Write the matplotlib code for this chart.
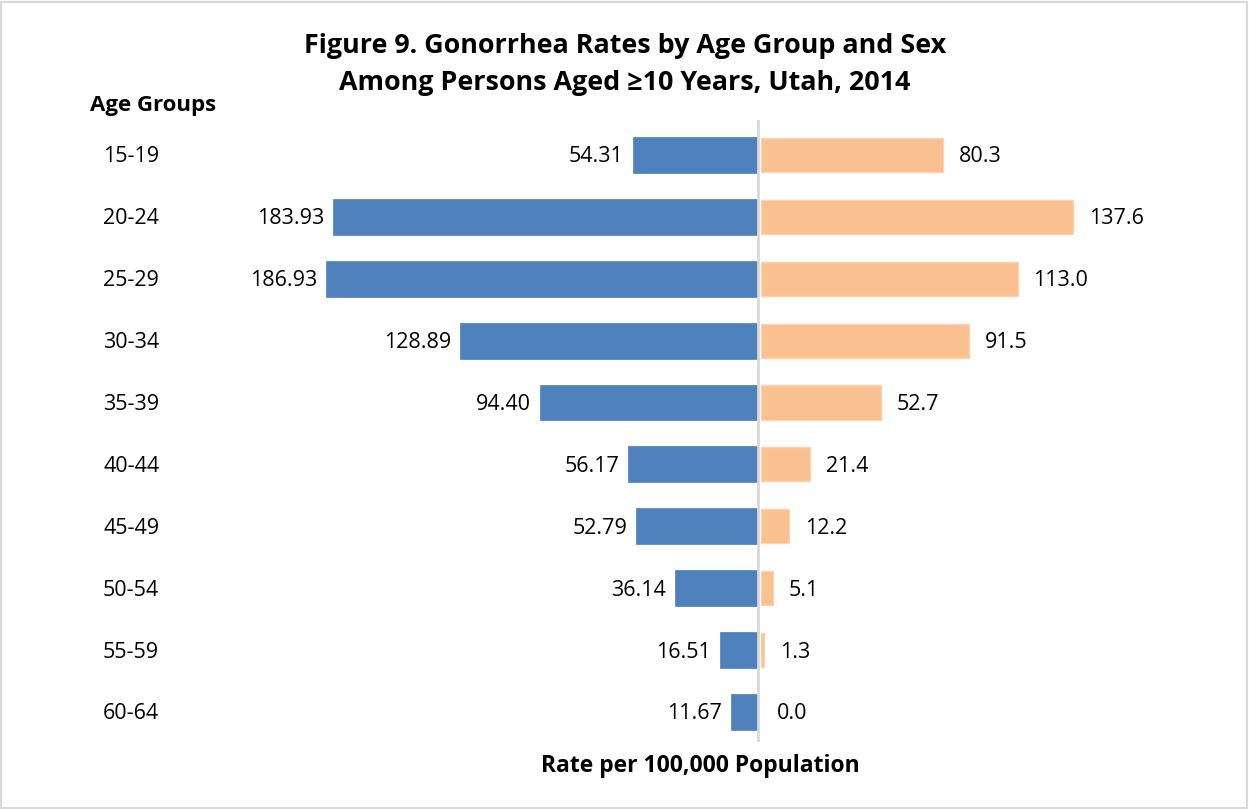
import matplotlib.pyplot as plt
from matplotlib.patches import Rectangle
from matplotlib.transforms import blended_transform_factory

# === DATA ===
age_groups = ["15-19", "20-24", "25-29", "30-34", "35-39",
              "40-44", "45-49", "50-54", "55-59", "60-64"]
male_rates = [54.31, 183.93, 186.93, 128.89, 94.40,
              56.17, 52.79, 36.14, 16.51, 11.67]
female_rates = [80.3, 137.6, 113.0, 91.5, 52.7,
                21.4, 12.2, 5.1, 1.3, 0.0]
# ============

plt.rcParams['font.family'] = ['Open Sans', 'DejaVu Sans']

W, H = 1249, 809
fig = plt.figure(figsize=(W / 100, H / 100), dpi=100)

# axes placed in pixel terms: x 240..1200, y 120..742
rect = [240 / W, 1 - 742 / H, 960 / W, 622 / H]
ylim = (len(age_groups) - 1 + 0.485, -0.565)
y = list(range(len(age_groups)))
bar_h = 0.58

# male side (left)
ax = fig.add_axes(rect)
ax.set_xlim(-(758 - 240) / 2.31, (1200 - 758) / 2.31)
ax.set_ylim(*ylim)
ax.barh(y, [-v for v in male_rates], height=bar_h,
        color='#4F81BD', edgecolor='#4F81BD', linewidth=0.5)

# female side (right), slightly different scale as in the original
ax2 = fig.add_axes(rect)
ax2.patch.set_visible(False)
ax2.set_xlim(-(761 - 240) / 2.27, (1200 - 761) / 2.27)
ax2.set_ylim(*ylim)
for yi, f in zip(y, female_rates):
    if f > 0:
        ax2.barh(yi, f, height=bar_h * 0.95,
                 color='#FAC090', edgecolor='#FBD3B0', linewidth=1)

ax.axvline(0, color='#D9D9D9', linewidth=2)

for yi, m, f in zip(y, male_rates, female_rates):
    ax.annotate(f"{m:.2f}", (-m, yi), xytext=(-9, -2), textcoords='offset pixels',
                ha='right', va='center', fontsize=15.5)
    ax2.annotate(f"{f:.1f}", (f, yi), xytext=(16, -2), textcoords='offset pixels',
                 ha='left', va='center', fontsize=15.5)

# category labels on the left
trans = blended_transform_factory(fig.transFigure, ax.transData)
for yi, lab in zip(y, age_groups):
    ax.annotate(lab, (103 / W, yi), xycoords=trans, xytext=(0, -2),
                textcoords='offset pixels', ha='left', va='center', fontsize=15.5)

for a in (ax, ax2):
    for s in a.spines.values():
        s.set_visible(False)
    a.set_xticks([])
    a.set_yticks([])

fig.text(90 / W, 1 - 105 / H, "Age Groups", ha='left', va='center',
         fontsize=16, fontweight='bold')
fig.text(625 / W, 1 - 46 / H, "Figure 9. Gonorrhea Rates by Age Group and Sex",
         ha='center', va='center', fontsize=19.4, fontweight='bold')
fig.text(625 / W, 1 - 83 / H, "Among Persons Aged \u226510 Years, Utah, 2014",
         ha='center', va='center', fontsize=19.4, fontweight='bold')
fig.text(700 / W, 1 - 766 / H, "Rate per 100,000 Population",
         ha='center', va='center', fontsize=16.5, fontweight='bold')

# light border around the chart area
fig.patches.append(Rectangle((1 / W, 1 / H), 1 - 3 / W, 1 - 3 / H,
                             transform=fig.transFigure, fill=False,
                             edgecolor='#D9D9D9', linewidth=1.5))

fig.savefig("out.png", dpi=100)
